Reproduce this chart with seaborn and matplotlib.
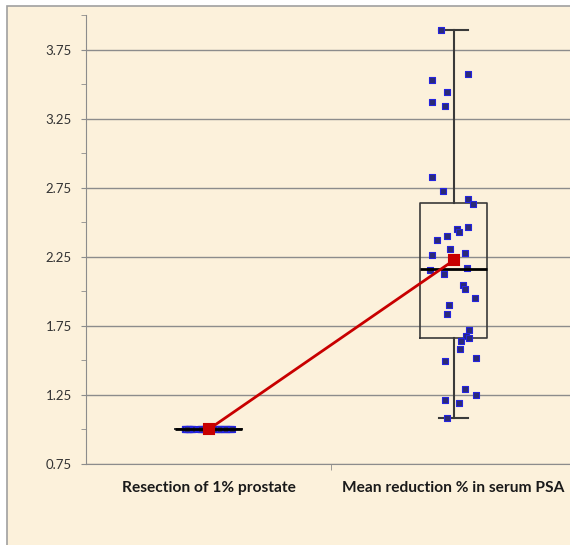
import numpy as np
import pandas as pd
import matplotlib.pyplot as plt
import seaborn as sns
from matplotlib.patches import Rectangle

# Data
categories = ["Resection of 1% prostate", "Mean reduction % in serum PSA"]
resection = [1.0] * 38
psa_reduction = [3.891, 3.573, 3.530, 3.443, 3.373, 3.342, 2.824, 2.723, 2.665, 2.634,
                 2.465, 2.453, 2.428, 2.397, 2.374, 2.303, 2.280, 2.265, 2.157, 2.171,
                 2.123, 2.043, 2.017, 1.954, 1.901, 1.839, 1.718, 1.675, 1.641, 1.665,
                 1.581, 1.518, 1.492, 1.292, 1.251, 1.212, 1.195, 1.080]
y_ticks = [0.75, 1.25, 1.75, 2.25, 2.75, 3.25, 3.75]

df = pd.DataFrame({
    "group": [categories[0]] * len(resection) + [categories[1]] * len(psa_reduction),
    "value": resection + psa_reduction,
})

plt.rcParams["font.family"] = ["Lato", "DejaVu Sans"]

fig = plt.figure(figsize=(5.7, 5.45), dpi=100)
fig.patch.set_facecolor("white")
# parchment chart area with a thin grey frame
fig.add_artist(Rectangle((7 / 570, -0.02), 1.0, 1.02 - 6 / 545, transform=fig.transFigure,
                         facecolor="#FCF1DB", edgecolor="#A0A0A0", lw=1.2, zorder=0))

ax = fig.add_axes([86 / 570, 81 / 545, 490 / 570, 449 / 545])
ax.set_facecolor("none")

# points
np.random.seed(11)
sns.stripplot(data=df, x="group", y="value", order=categories, jitter=0.1, marker="s",
              size=4.5, color="#2B2B77", edgecolor="#2424E0", linewidth=0.8, ax=ax, zorder=3)

# mean line
sns.pointplot(data=df, x="group", y="value", order=categories, estimator="mean",
              errorbar=None, color="#C80000", markers="s", markersize=6.5, linewidth=2,
              ax=ax, zorder=5)

# boxes with exclusive quartiles (like Excel), whiskers to min / max
stats = []
for vals in [resection, psa_reduction]:
    v = np.array(vals)
    q1, med, q3 = np.percentile(v, [25, 50, 75], method="weibull")
    stats.append(dict(med=med, q1=q1, q3=q3, whislo=v.min(), whishi=v.max(), fliers=[]))
ax.bxp(stats, positions=[0, 1], widths=0.27, capwidths=0.12, showfliers=False,
       manage_ticks=False,
       boxprops=dict(color="#3A3A3A", lw=1.2),
       whiskerprops=dict(color="#3A3A3A", lw=1.5),
       capprops=dict(color="#3A3A3A", lw=1.5),
       medianprops=dict(color="black", lw=2, zorder=4), zorder=2)

ax.set_xlim(-0.5, 1.5)
ax.set_ylim(0.75, 4.0)
ax.set_yticks(y_ticks)
ax.set_yticks(np.arange(1.0, 4.01, 0.5), minor=True)
ax.yaxis.set_major_formatter("{x:.2f}")
ax.tick_params(axis="y", which="both", length=3.6, color="#8C8C8C", labelsize=9.5,
               labelcolor="#333333", pad=6.5)
ax.set_xticks([0, 1], categories)
ax.set_xticks([0.5], minor=True)
ax.tick_params(axis="x", which="major", length=0, pad=12, labelsize=11.2, labelcolor="#1A1A1A")
ax.tick_params(axis="x", which="minor", length=4, color="#8C8C8C")
for lab in ax.get_xticklabels():
    lab.set_fontweight("bold")

ax.grid(axis="y", color="#8C8C8C", lw=1)
ax.set_axisbelow(True)
for s in ["top", "right"]:
    ax.spines[s].set_visible(False)
for s in ["left", "bottom"]:
    ax.spines[s].set_color("#8C8C8C")
ax.set_xlabel("")
ax.set_ylabel("")

fig.savefig("out.png", dpi=100)
